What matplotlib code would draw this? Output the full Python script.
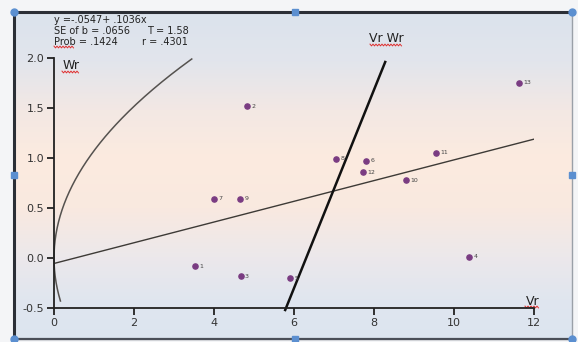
import numpy as np
import matplotlib.pyplot as plt
from matplotlib.colors import LinearSegmentedColormap
from matplotlib.patches import Rectangle

# Vr / Wr points per array
vr = [3.52, 4.83, 4.67, 10.38, 5.90, 7.80, 4.00, 7.05, 4.65, 8.80, 9.55, 7.73, 11.63]
wr = [-0.08, 1.52, -0.18, 0.01, -0.20, 0.97, 0.59, 0.99, 0.59, 0.78, 1.05, 0.86, 1.75]
labels = [str(i) for i in range(1, 14)]

# regression Wr on Vr
a, b = -0.0547, 0.1036
se_b, t_val, prob, r_val = 0.0656, 1.58, 0.1424, 0.4301

# limiting parabola Wr^2 = Vr * V0L0
v0l0 = 1.15
wr_par_lo, wr_par_hi = -0.43, 1.99

# unit-slope Vr-Wr line
vrwr_x = [5.78, 8.28]
vrwr_y = [-0.52, 1.96]

W, H = 578, 342
fig = plt.figure(figsize=(W / 100, H / 100), dpi=100)
fig.patch.set_facecolor('#f4f5f7')

# background panel with soft vertical gradient
bg = fig.add_axes([0, 0, 1, 1])
bg.set_xlim(0, W)
bg.set_ylim(H, 0)
bg.axis('off')
grad = LinearSegmentedColormap.from_list('bg', [
    (0.0, '#dbe3ed'), (0.15, '#e2e5ec'), (0.30, '#f3e8e4'), (0.45, '#fcebdf'),
    (0.60, '#f9e9e0'), (0.75, '#ece8eb'), (0.88, '#e0e6ef'), (1.0, '#dce5f0')])
bg.imshow(np.linspace(0, 1, 256)[:, None], aspect='auto', cmap=grad,
          extent=[14, 572, 339, 12], zorder=0)
bg.add_patch(Rectangle((14, 12), 558, 327, fill=False, ec='#9aa0a8', lw=1.0, zorder=2))
bg.plot([14, 572], [12, 12], color='#2b2f36', lw=2.2, zorder=3)
bg.plot([14, 14], [12, 339], color='#2b2f36', lw=2.2, zorder=3)
bg.plot([14, 572], [339, 339], color='#4a4f58', lw=1.6, zorder=3)
# selection handles
for hx, hy in [(14, 12), (572, 12), (14, 339), (572, 339)]:
    bg.plot(hx, hy, 'o', ms=5, color='#5b8fd0', zorder=4)
for hx, hy in [(295, 12), (14, 175), (572, 175), (295, 339)]:
    bg.plot(hx, hy, 's', ms=4.5, color='#5b8fd0', zorder=4)


def squiggle(x0, x1, y):
    xs = np.arange(x0, x1 + 0.1, 1.5)
    ys = y + np.where(np.arange(len(xs)) % 2 == 0, -0.9, 0.9)
    bg.plot(xs, ys, color='#e03030', lw=0.7, zorder=5)


# regression summary text
tk = dict(fontsize=7, color='#222222', va='center', ha='left')
bg.text(54, 20, f'y =-{abs(a):.4f}+ {b:.4f}x'.replace('0.', '.'), **tk)
bg.text(54, 31, f'SE of b = {se_b:.4f}'.replace('0.', '.'), **tk)
bg.text(147, 31, f'T = {t_val:.2f}', **tk)
bg.text(54, 42, f'Prob = {prob:.4f}'.replace('0.', '.'), **tk)
bg.text(142, 42, f'r = {r_val:.4f}'.replace('0.', '.'), **tk)
squiggle(54, 74, 47)

ax = fig.add_axes([54 / W, 1 - 308 / H, 480 / W, 250 / H])
ax.patch.set_alpha(0)
ax.set_xlim(0, 12)
ax.set_ylim(-0.5, 2.0)
for s in ['top', 'right']:
    ax.spines[s].set_visible(False)
for s in ['left', 'bottom']:
    ax.spines[s].set_color('#222222')
    ax.spines[s].set_linewidth(1.3)
ax.set_xticks(range(0, 13, 2))
ax.set_yticks([-0.5, 0.0, 0.5, 1.0, 1.5, 2.0])
ax.set_yticklabels(['-0.5', '0.0', '0.5', '1.0', '1.5', '2.0'])
ax.tick_params(axis='both', labelsize=8, colors='#222222', labelcolor='#333333',
               length=5, width=1.3, direction='out', pad=2)

# limiting parabola
wp = np.linspace(wr_par_lo, wr_par_hi, 200)
ax.plot(wp ** 2 / v0l0, wp, color='#55524f', lw=1.1, clip_on=False)

# regression line
xr = np.array([0, 12])
ax.plot(xr, a + b * xr, color='#3d3a36', lw=1.0)

# Vr-Wr line
ax.plot(vrwr_x, vrwr_y, color='#111111', lw=1.8, clip_on=False)

ax.scatter(vr, wr, s=14, color='#7a3c82', zorder=4)
for x, y, t in zip(vr, wr, labels):
    ax.annotate(t, (x, y), xytext=(3, 0), textcoords='offset points',
                fontsize=4.5, color='#444444', va='center', ha='left')

ax.text(0.017, 0.97, 'Wr', transform=ax.transAxes, fontsize=9, color='#222222',
        ha='left', va='center')
squiggle(62, 79, 72)
ax.text(0.997, 0.027, 'Vr', transform=ax.transAxes, fontsize=9, color='#222222',
        ha='center', va='center')
squiggle(525, 539, 307)
bg.text(386, 39, 'Vr Wr', fontsize=9, color='#222222', ha='center', va='center')
squiggle(370, 402, 45)

fig.savefig('out.png', dpi=100)
